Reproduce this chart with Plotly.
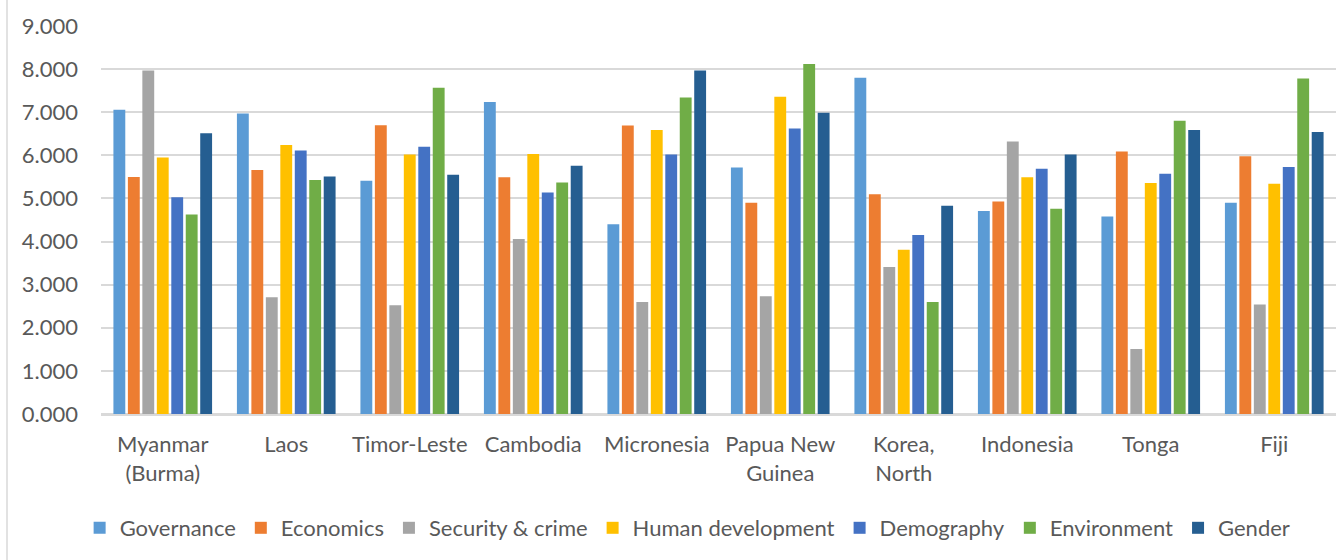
import plotly.graph_objects as go

# Country categories (line breaks follow the wrapped axis labels)
countries = ["Myanmar<br>(Burma)", "Laos", "Timor-Leste", "Cambodia", "Micronesia",
             "Papua New<br>Guinea", "Korea,<br>North", "Indonesia", "Tonga", "Fiji"]

governance = [7.06, 6.97, 5.41, 7.24, 4.40, 5.72, 7.80, 4.71, 4.58, 4.90]
economics = [5.50, 5.66, 6.70, 5.49, 6.69, 4.90, 5.10, 4.93, 6.09, 5.98]
security_crime = [7.97, 2.71, 2.52, 4.06, 2.60, 2.73, 3.41, 6.32, 1.51, 2.54]
human_development = [5.95, 6.24, 6.02, 6.03, 6.59, 7.36, 3.81, 5.49, 5.36, 5.34]
demography = [5.03, 6.11, 6.20, 5.14, 6.02, 6.62, 4.15, 5.69, 5.57, 5.73]
environment = [4.63, 5.43, 7.57, 5.37, 7.34, 8.12, 2.60, 4.76, 6.80, 7.78]
gender = [6.51, 5.51, 5.55, 5.76, 7.97, 6.99, 4.83, 6.02, 6.59, 6.54]

series = [
    ("Governance", governance, "#5B9BD5"),
    ("Economics", economics, "#ED7D31"),
    ("Security & crime", security_crime, "#A5A5A5"),
    ("Human development", human_development, "#FFC000"),
    ("Demography", demography, "#4472C4"),
    ("Environment", environment, "#70AD47"),
    ("Gender", gender, "#255E91"),
]

FONT = "Lato"
TEXT = "#595959"
FS = 22

fig = go.Figure()
for name, vals, color in series:
    fig.add_trace(go.Bar(
        name=name, x=countries, y=vals,
        marker=dict(color=color, line=dict(width=0)),
    ))

W, H = 1336, 560
L, R, T, B = 101, 0, 26, 146
plot_w = W - L - R
plot_h = H - T - B

fig.update_layout(
    width=W, height=H,
    margin=dict(l=L, r=R, t=T, b=B),
    paper_bgcolor="white", plot_bgcolor="white",
    barmode="group", bargap=0.18, bargroupgap=0.18,
    font=dict(family=FONT, size=FS, color=TEXT),
    showlegend=True,
    legend=dict(
        orientation="h", x=0.475, xanchor="center",
        y=-(528 - (H - B)) / plot_h, yanchor="middle",
        font=dict(family=FONT, size=FS, color=TEXT),
        itemwidth=30, tracegroupgap=0,
    ),
    xaxis=dict(
        showgrid=False, showline=True, linecolor="#D9D9D9", linewidth=1.5,
        ticks="", tickfont=dict(family=FONT, size=FS, color=TEXT),
        ticklabelstandoff=10,
    ),
    yaxis=dict(
        range=[0, 9], tickvals=list(range(0, 10)),
        ticktext=[f"{v:.3f}" for v in range(0, 10)],
        showgrid=True, gridcolor="#D9D9D9", gridwidth=1.5,
        zeroline=True, zerolinecolor="#D9D9D9", zerolinewidth=1.5,
        showline=False, ticks="",
        tickfont=dict(family=FONT, size=FS, color=TEXT),
        ticklabelstandoff=22,
    ),
    shapes=[dict(
        type="rect", xref="paper", yref="paper",
        x0=(7 - L) / plot_w, x1=1.05,
        y0=-(H + 20 - (H - B)) / plot_h, y1=1.3,
        line=dict(color="#D9D9D9", width=1.5), fillcolor="rgba(0,0,0,0)",
        layer="below",
    )],
)

fig.write_html("out.html")
